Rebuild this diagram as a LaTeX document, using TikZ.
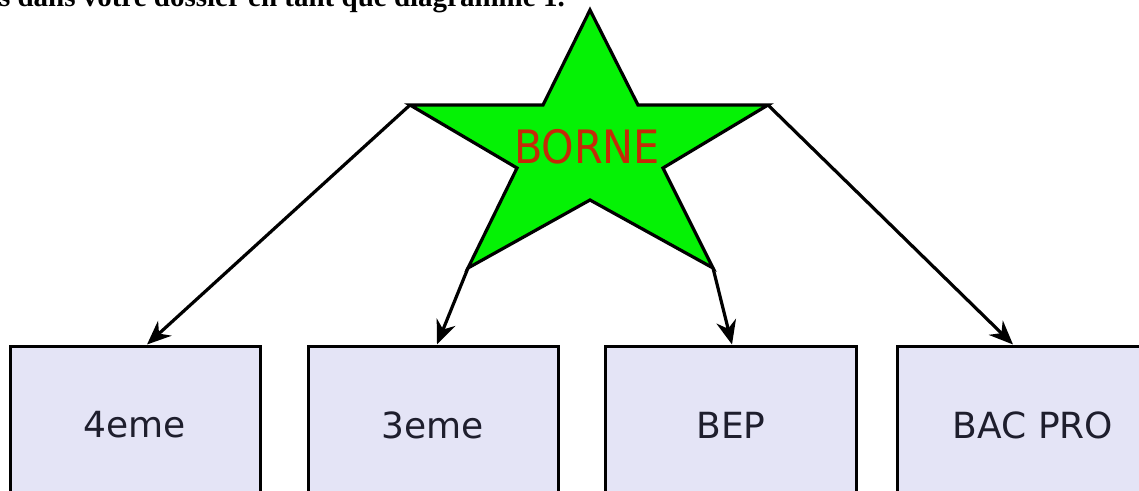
\documentclass[tikz,border=0pt]{standalone}
\usepackage{fontspec}
\setmainfont{DejaVu Sans}
\newfontfamily\serifnote{Liberation Serif}
\newfontfamily\bornefont{DejaVu Sans Condensed}
\definecolor{StarGreen}{RGB}{5,242,5}
\definecolor{BorneRed}{RGB}{196,42,8}
\definecolor{BoxLavender}{RGB}{228,228,246}
\definecolor{LabelInk}{RGB}{30,30,45}
\usetikzlibrary{arrows.meta, calc}

\begin{document}
\begin{tikzpicture}[x=1pt, y=-1pt,
    levelbox/.style={draw=black, line width=3pt, fill=BoxLavender,
      minimum height=158pt, inner sep=0pt, text=LabelInk,
      font=\fontsize{36}{43}\selectfont},
    branch/.style={-{Stealth[length=24pt, width=20pt]}, line width=3.2pt}]
  \useasboundingbox (0,0) rectangle (1139,490);
  \clip (0,0) rectangle (1139,490);
  \fill[white] (0,0) rectangle (1139,490);

  % cut-off line of the page above
  \node[anchor=base east, inner sep=0pt,
        font={\serifnote\bfseries\fontsize{29}{35}\selectfont}] (caption) at (565,6)
        {s dans votre dossier en tant que diagramme 1.};

  % the star
  \coordinate (T) at (590,10);
  \coordinate (iUR) at (638,105);
  \coordinate (R) at (768,105);
  \coordinate (iR) at (663,168);
  \coordinate (BR) at (713,268);
  \coordinate (iB) at (590,200);
  \coordinate (BL) at (468,268);
  \coordinate (iL) at (517,168);
  \coordinate (L) at (410,105);
  \coordinate (iUL) at (543,105);
  \draw[fill=StarGreen, line width=3.2pt, line join=miter]
        (T) -- (iUR) -- (R) -- (iR) -- (BR) -- (iB) -- (BL) -- (iL)
        -- (L) -- (iUL) -- cycle;
  \node[text=BorneRed, font={\bornefont\fontsize{46}{55}\selectfont}]
        (borne) at (587,147) {BORNE};

  % the four boxes
  \foreach \name/\x/\w/\txt in {quatre/135/250/4eme, trois/433/250/3eme,
                                bep/731/251/BEP, bacpro/1033/272/BAC PRO}
    \node[levelbox, minimum width=\w pt] (\name) at (\x,425) {\txt};

  \foreach \from/\to/\dx in {L/quatre/12, BL/trois/4, BR/bep/1, R/bacpro/-20}
    \draw[branch] (\from) -- ([xshift=\dx pt]\to.north);
\end{tikzpicture}
\end{document}
